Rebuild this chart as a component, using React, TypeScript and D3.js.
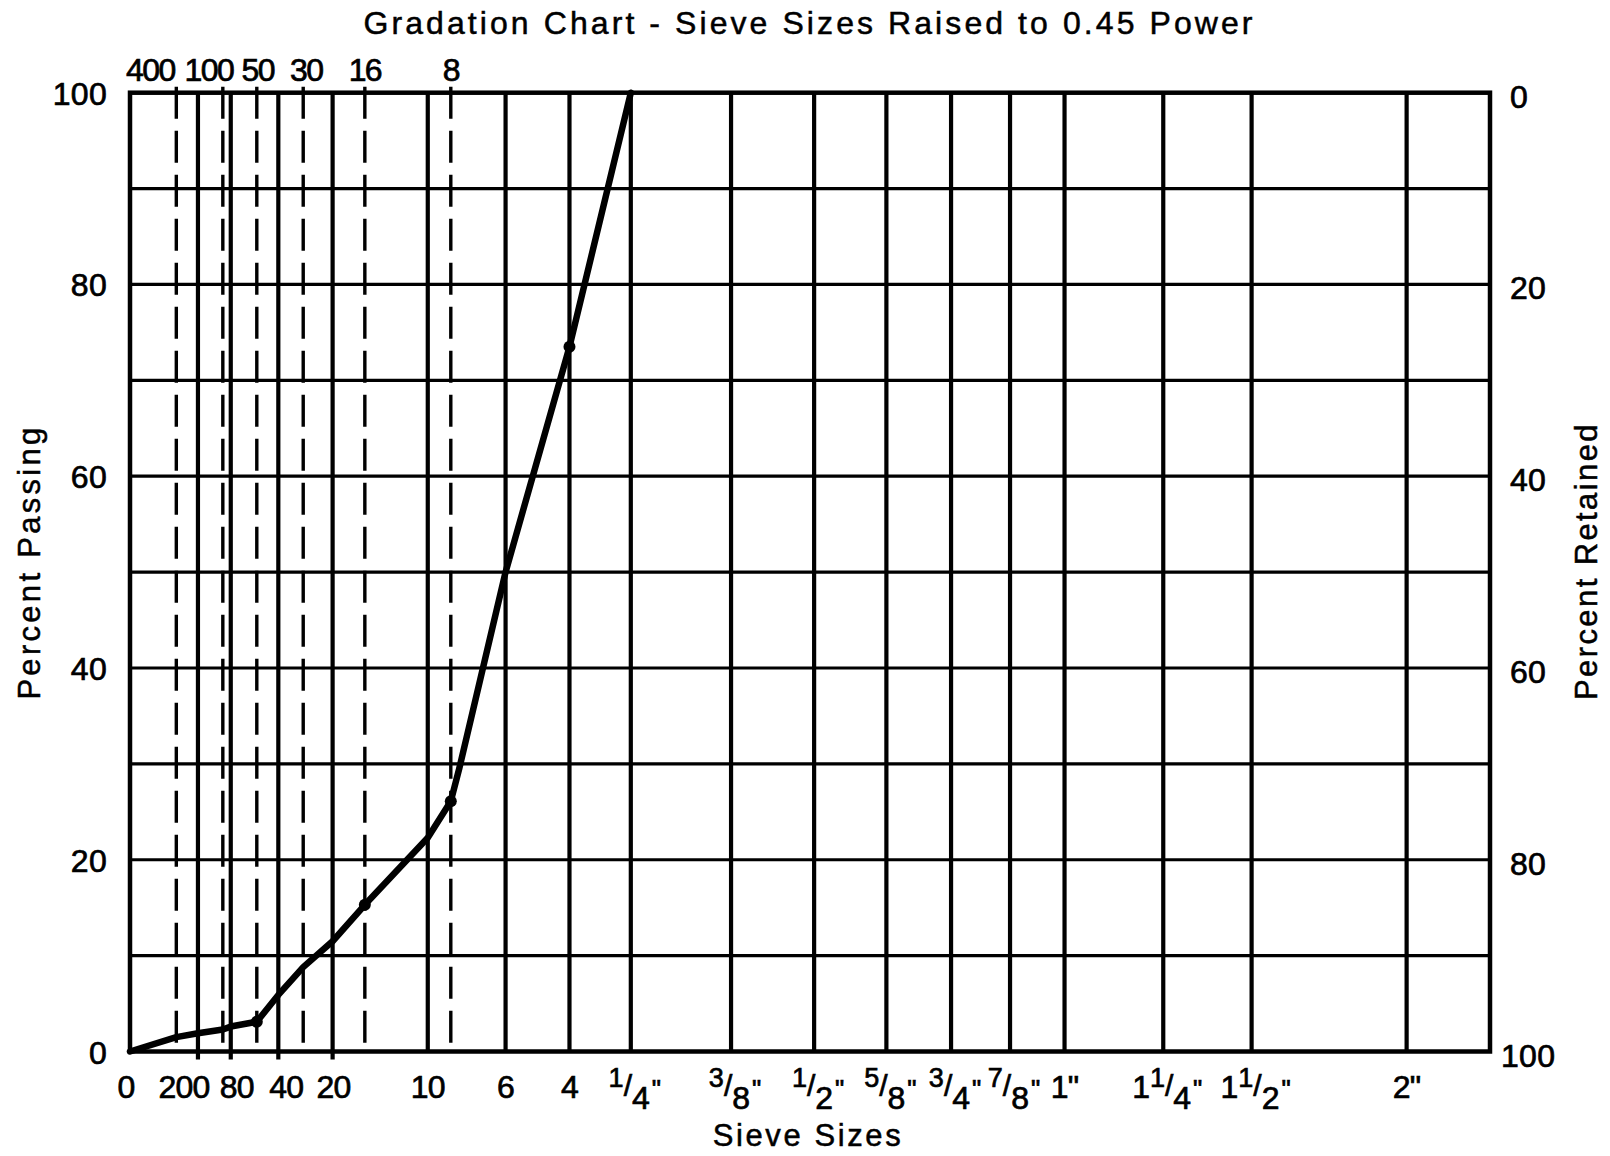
import React from "react";
import * as d3 from "d3";

// ---- data ----
const POWER = 0.45;
const X_MAX_POWERED = 6.239;

const solidSieveMm = [0.075, 0.18, 0.425, 0.85, 2.0, 3.35, 4.75, 6.35, 9.525, 12.7, 15.875, 19.05, 22.225, 25.4, 31.75, 38.1, 50.8];
const bottomLabelMm = [0, 0.075, 0.18, 0.425, 0.85, 2.0, 3.35, 4.75, 6.35, 9.525, 12.7, 15.875, 19.05, 22.225, 25.4, 31.75, 38.1, 50.8];
const bottomLabels = ["0", "200", "80", "40", "20", "10", "6", "4", "1/4\"", "3/8\"", "1/2\"", "5/8\"", "3/4\"", "7/8\"", "1\"", "1 1/4\"", "1 1/2\"", "2\""];
const dashedSieveMm = [0.032, 0.15, 0.3, 0.6, 1.18, 2.36];
const dashedSieveLabels = ["400", "100", "50", "30", "16", "8"];
const tickedSieveMm = [0.075, 0.18, 0.425, 0.85];

const curveMm = [0, 0.032, 0.075, 0.15, 0.18, 0.3, 0.425, 0.6, 0.85, 1.18, 2.0, 2.36, 2.5, 3.35, 4.75, 6.35];
const curvePassing = [0, 1.5, 1.9, 2.3, 2.6, 3.1, 5.9, 8.8, 11.5, 15.3, 22.3, 26.1, 29.5, 50, 73.5, 100];
const markerMm = [0.3, 1.18, 2.36, 4.75];
const markerPassing = [3.1, 15.3, 26.1, 73.5];

const passingTicks = [0, 20, 40, 60, 80, 100];
const retainedTicks = [0, 20, 40, 60, 80, 100];
const gridPercents = [10, 20, 30, 40, 50, 60, 70, 80, 90];

const title = "Gradation Chart - Sieve Sizes Raised to 0.45 Power";

// ---- layout (styles, not data) ----
const W = 1610;
const H = 1156;
const L = 130, R = 1490, T = 92.7, B = 1051.5;
const FONT = "'Liberation Sans', Arial, Helvetica, sans-serif";
const TS = 0.7; // text stroke for heavier glyphs
const bottomNudge: Record<string, number> = { "0": -4, "200": -14, "80": 6, "40": 8, "20": 1 };
const topNudge: Record<string, number> = { "400": -26, "100": -14, "50": 1, "30": 3 };

function SieveLabel({ x, y, label }: { x: number; y: number; label: string }) {
  if (label.includes("/")) {
    const inch = label.endsWith('"');
    const core = inch ? label.slice(0, -1) : label;
    const parts = core.split(" ");
    const whole = parts.length > 1 ? parts[0] : "";
    const [num, den] = parts[parts.length - 1].split("/");
    return (
      <text x={x + 4} y={y} textAnchor="middle" fontSize={32} fontFamily={FONT} fill="#000" stroke="#000" strokeWidth={TS}>
        {whole ? <tspan>{whole}</tspan> : null}
        <tspan dy={-11} fontSize={27}>{num}</tspan>
        <tspan dy={9} fontSize={30}>/</tspan>
        <tspan dy={13} fontSize={32}>{den}</tspan>
        {inch ? <tspan dy={-11} dx={2} fontSize={26}>"</tspan> : null}
      </text>
    );
  }
  return (
    <text x={x} y={y} textAnchor="middle" fontSize={32} fontFamily={FONT} fill="#000" letterSpacing={-0.8} stroke="#000" strokeWidth={TS}>
      {label}
    </text>
  );
}

export default function App() {
  const xs = d3.scaleLinear().domain([0, X_MAX_POWERED]).range([L, R]);
  const xp = (mm: number) => xs(Math.pow(mm, POWER));
  const y = d3.scaleLinear().domain([0, 100]).range([B, T]);
  const yRet = d3.scaleLinear().domain([100, 0]).range([B, T]);

  const curveData = curveMm.map((mm, i) => ({ mm, p: curvePassing[i] }));
  const line = d3
    .line<{ mm: number; p: number }>()
    .x((d) => xp(d.mm))
    .y((d) => y(d.p))
    .curve(d3.curveLinear);

  return (
    <svg width={W} height={H} viewBox={`0 0 ${W} ${H}`} style={{ position: "absolute", left: 0, top: 0, display: "block", background: "#fff" }}>
      <rect x={0} y={0} width={W} height={H} fill="#fff" />
      {/* title */}
      <text x={808} y={34} textAnchor="middle" fontSize={32} fontFamily={FONT} textLength={889} lengthAdjust="spacing" fill="#000" stroke="#000" strokeWidth={0.5}>
        {title}
      </text>

      {/* horizontal grid */}
      {gridPercents.map((p) => (
        <line key={"h" + p} x1={L} x2={R} y1={y(p)} y2={y(p)} stroke="#000" strokeWidth={3.2} />
      ))}

      {/* vertical solid grid */}
      {solidSieveMm.map((mm) => (
        <line key={"v" + mm} x1={xp(mm)} x2={xp(mm)} y1={T} y2={tickedSieveMm.includes(mm) ? B + 8 : B} stroke="#000" strokeWidth={4.2} />
      ))}

      {/* dashed sieve lines */}
      {dashedSieveMm.map((mm) => (
        <line key={"d" + mm} x1={xp(mm)} x2={xp(mm)} y1={T - 6} y2={B} stroke="#000" strokeWidth={3.4} strokeDasharray="32,12" />
      ))}

      {/* border */}
      <rect x={L} y={T} width={R - L} height={B - T} fill="none" stroke="#000" strokeWidth={4.5} />

      {/* curve */}
      <path d={line(curveData) || ""} fill="none" stroke="#000" strokeWidth={6.5} strokeLinejoin="round" strokeLinecap="round" />
      {markerMm.map((mm, i) => (
        <circle key={"m" + mm} cx={xp(mm)} cy={y(markerPassing[i])} r={6} fill="#000" />
      ))}

      {/* left axis labels */}
      {passingTicks.map((t) => (
        <text key={"l" + t} x={107} y={y(t) + 12} textAnchor="end" fontSize={32} fontFamily={FONT} letterSpacing={0.3} fill="#000" stroke="#000" strokeWidth={TS}>
          {t}
        </text>
      ))}
      {/* right axis labels */}
      {retainedTicks.map((t) => (
        <text key={"r" + t} x={t === 100 ? 1501 : 1510} y={yRet(t) + 15} textAnchor="start" fontSize={32} fontFamily={FONT} letterSpacing={0.3} fill="#000" stroke="#000" strokeWidth={TS}>
          {t}
        </text>
      ))}

      {/* top dashed labels */}
      {dashedSieveMm.map((mm, i) => (
        <text key={"t" + mm} x={xp(mm) + (topNudge[dashedSieveLabels[i]] || 0)} y={81} textAnchor="middle" fontSize={32} fontFamily={FONT} letterSpacing={-1.6} fill="#000" stroke="#000" strokeWidth={TS}>
          {dashedSieveLabels[i]}
        </text>
      ))}

      {/* bottom labels */}
      {bottomLabelMm.map((mm, i) => (
        <SieveLabel key={"b" + i} x={xp(mm) + (bottomNudge[bottomLabels[i]] || 0)} y={1098} label={bottomLabels[i]} />
      ))}

      {/* axis titles */}
      <text x={808} y={1146} textAnchor="middle" fontSize={31} fontFamily={FONT} letterSpacing={2.6} fill="#000" stroke="#000" strokeWidth={0.5}>
        Sieve Sizes
      </text>
      <text transform={`translate(40, 562) rotate(-90)`} textAnchor="middle" fontSize={31} fontFamily={FONT} letterSpacing={3.3} fill="#000" stroke="#000" strokeWidth={0.5}>
        Percent Passing
      </text>
      <text transform={`translate(1597, 561) rotate(-90)`} textAnchor="middle" fontSize={31} fontFamily={FONT} letterSpacing={2.4} fill="#000" stroke="#000" strokeWidth={0.5}>
        Percent Retained
      </text>
    </svg>
  );
}
